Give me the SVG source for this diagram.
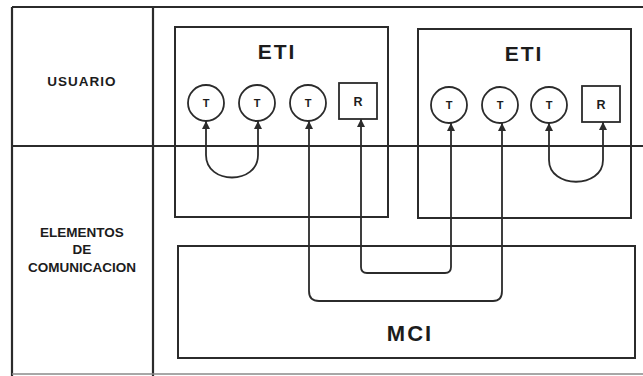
<svg xmlns="http://www.w3.org/2000/svg" width="643" height="376" viewBox="0 0 643 376">
<style>
.frame{fill:none;stroke:#2b2b2b;stroke-width:2.2}
.box{fill:none;stroke:#2b2b2b;stroke-width:2}
.node{fill:#fff;stroke:#2b2b2b;stroke-width:1.8}
.conn{fill:none;stroke:#2b2b2b;stroke-width:1.8}
.lbl{font-family:"Liberation Sans",Arial,sans-serif;font-weight:bold;fill:#1c1c1c;text-anchor:middle}
.big{font-size:21px;letter-spacing:2px}
.side{font-size:13.5px}
.small{font-size:11px}
.rl{font-size:12.5px}
</style>
<defs>
<marker id="ah" viewBox="0 0 10 10" refX="10" refY="5" markerUnits="userSpaceOnUse" markerWidth="9" markerHeight="8" orient="auto-start-reverse">
<path d="M0,0 L10,5 L0,10 z" fill="#2b2b2b"/>
</marker>
</defs>
<rect width="643" height="376" fill="#fff"/>
<g id="frame">
<line class="frame" x1="12" y1="7" x2="643" y2="7"/>
<line class="frame" x1="12" y1="7" x2="12" y2="376"/>
<line class="frame" x1="153" y1="7" x2="153" y2="376"/>
<line class="frame" x1="12" y1="146" x2="643" y2="146"/>
<line x1="12" y1="374" x2="643" y2="374" stroke="#8a8a8a" stroke-width="1.5"/>
<text class="lbl side" x="82" y="86" letter-spacing="1">USUARIO</text>
<text class="lbl side" x="82" y="237">ELEMENTOS</text>
<text class="lbl side" x="82" y="254">DE</text>
<text class="lbl side" x="82" y="272">COMUNICACION</text>
</g>
<g id="eti1">
<rect class="box" x="175" y="27" width="213" height="190"/>
<text class="lbl big" x="277" y="59">ETI</text>
</g>
<g id="eti2">
<rect class="box" x="418" y="29" width="213" height="189"/>
<text class="lbl big" x="524" y="61">ETI</text>
</g>
<g id="mci">
<rect class="box" x="178" y="246" width="457" height="112"/>
<text class="lbl big" x="410" y="341" style="font-size:22px">MCI</text>
</g>
<g id="t1"><circle class="node" cx="206" cy="103" r="18"/><text class="lbl small" x="206" y="107">T</text></g>
<g id="t2"><circle class="node" cx="257" cy="103" r="18"/><text class="lbl small" x="257" y="107">T</text></g>
<g id="t3"><circle class="node" cx="308" cy="103" r="18"/><text class="lbl small" x="308" y="107">T</text></g>
<g id="r1"><rect class="node" x="339" y="83" width="38" height="36"/><text class="lbl rl" x="358" y="106">R</text></g>
<g id="t4"><circle class="node" cx="449" cy="105" r="18"/><text class="lbl small" x="449" y="109">T</text></g>
<g id="t5"><circle class="node" cx="500" cy="105" r="18"/><text class="lbl small" x="500" y="109">T</text></g>
<g id="t6"><circle class="node" cx="549" cy="105" r="18"/><text class="lbl small" x="549" y="109">T</text></g>
<g id="r2"><rect class="node" x="582" y="86" width="38" height="36"/><text class="lbl rl" x="601" y="109">R</text></g>
<g id="connectors">
<path class="conn" marker-start="url(#ah)" marker-end="url(#ah)" d="M206,121 V155 C206,185 258,185 258,155 V121"/>
<path class="conn" marker-start="url(#ah)" marker-end="url(#ah)" d="M549,123 V160 C549,189 603,189 603,160 V122"/>
<path class="conn" marker-start="url(#ah)" marker-end="url(#ah)" d="M309,121 V291 Q309,301 319,301 H493 Q502,301 502,291 V123"/>
<path class="conn" marker-start="url(#ah)" marker-end="url(#ah)" d="M361,119 V267 Q361,273 367,273 H445 Q451,273 451,267 V123"/>
</g>
</svg>
